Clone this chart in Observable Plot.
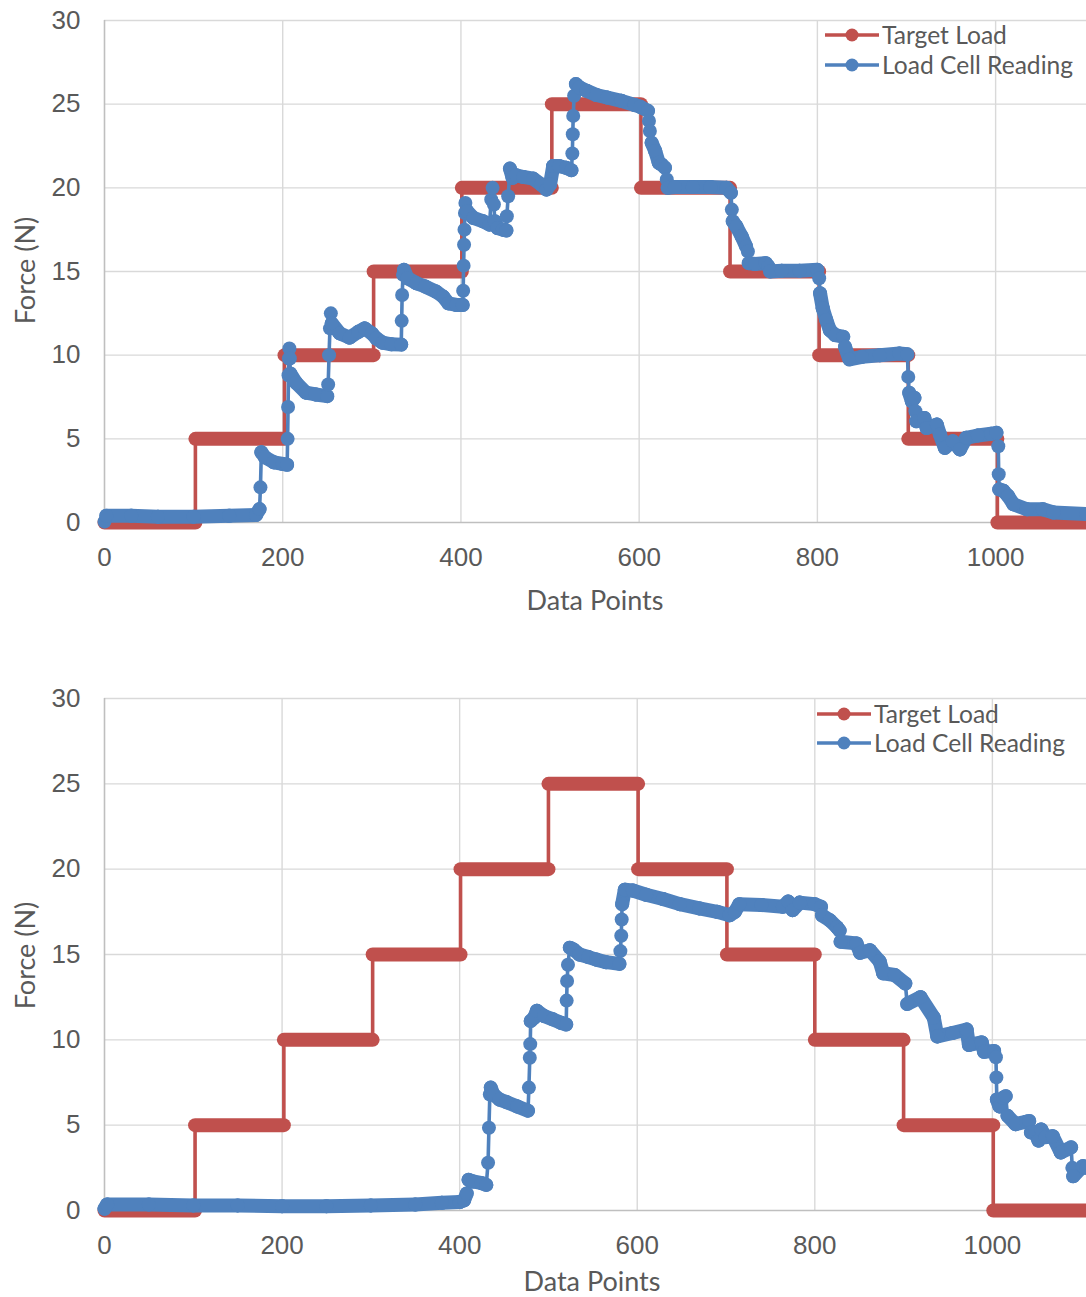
<!DOCTYPE html>
<html><head><meta charset="utf-8">
<script src="https://cdn.jsdelivr.net/npm/d3@7"></script>
<script src="https://cdn.jsdelivr.net/npm/@observablehq/plot@0.6"></script>
<style>
body{margin:0;background:#fff;}
#wrap{position:relative;width:1086px;height:1297px;overflow:hidden;background:#fff;}
#wrap svg.plot, #wrap figure{display:block;margin:0;}
.lbl{position:absolute;font-family:Lato, "Open Sans", sans-serif;color:#595959;font-size:27px;white-space:nowrap;line-height:1;}
.leg{position:absolute;display:flex;align-items:center;font-family:Lato, "Open Sans", sans-serif;color:#595959;font-size:24.6px;white-space:nowrap;line-height:1;}
</style></head><body><div id="wrap"></div>
<script>
// ---------- data ----------
const xTicks = [0, 200, 400, 600, 800, 1000];
const yTicks = [0, 5, 10, 15, 20, 25, 30];
const seriesNames = ["Target Load", "Load Cell Reading"];

// Chart 1 (top)
const targetTop = [[0,0],[102,0],[102,5],[202,5],[202,10],[302,10],[302,15],[401,15],[401,20],[502,20],[502,25],[602,25],[602,20],[702,20],[702,15],[802,15],[802,10],[902,10],[902,5],[1002,5],[1002,0],[1102,0]];
const loadTop = [[0,0.05],[2,0.4],[30,0.4],[60,0.35],[100,0.35],[140,0.4],[170,0.45],[174,0.8],[175,2.1],[176,4.2],[180,3.9],[190,3.6],[200,3.5],[205,3.45],[205.5,5.0],[206,6.9],[206.5,8.8],[207,9.8],[207.5,10.4],[208,9.8],[208.5,8.9],[215,8.35],[226,7.76],[237,7.65],[250,7.55],[251,8.25],[252,10.0],[253,11.6],[254,12.5],[255,11.9],[264,11.3],[275,11.05],[285,11.4],[292,11.6],[300,11.3],[305,11.0],[312,10.75],[322,10.65],[333,10.63],[333.5,12.05],[334,13.6],[335,14.8],[336,15.1],[340,14.6],[350,14.3],[360,14.1],[372,13.8],[380,13.5],[386,13.1],[395,13.0],[402,13.0],[402.5,13.85],[403,15.35],[403.5,16.6],[404,17.5],[404.5,18.5],[405,19.1],[407,18.6],[414,18.2],[425,18.0],[432,17.8],[434,19.3],[435.5,20.0],[437,19.0],[438,18.0],[441,17.6],[447,17.5],[451,17.45],[451.5,18.3],[453,19.5],[455,21.15],[458,20.6],[462,20.75],[470,20.65],[481,20.55],[490,20.2],[496,19.9],[500,20.2],[503.5,21.3],[510,21.3],[518,21.2],[524,21.05],[525,22.05],[525.5,23.2],[526,24.3],[527,25.5],[529,26.2],[533,26.0],[541,25.8],[552,25.55],[564,25.4],[580,25.2],[595,24.95],[601,24.85],[610,24.6],[611,24.0],[612,23.4],[614,22.7],[618,22.2],[622,21.5],[625,21.4],[629,21.2],[631,20.5],[632,20.0],[640,20.05],[660,20.05],[680,20.05],[698,20.0],[703,19.7],[704,18.7],[705,18.0],[709,17.7],[715,17.1],[720,16.5],[722,16.2],[723,15.5],[730,15.45],[742,15.5],[745,15.3],[747,15.0],[760,15.05],[780,15.05],[800,15.1],[802,14.6],[803,13.7],[806,12.8],[810,12.1],[814,11.5],[820,11.2],[829,11.1],[831,10.5],[836,9.75],[850,9.9],[870,10.0],[892,10.1],[901,10.05],[902,8.7],[903,7.75],[906,7.25],[909,7.45],[910,6.65],[911,6.05],[920,6.25],[922.6,5.65],[934,5.85],[937.5,5.26],[943,4.46],[952,4.86],[960,4.37],[967,5.06],[980,5.2],[995,5.3],[1001,5.36],[1003,4.56],[1003.5,2.88],[1004,1.98],[1008.6,1.9],[1014,1.59],[1020,1.09],[1035,0.79],[1053,0.79],[1065,0.6],[1102,0.5]];

// Chart 2 (bottom)
const targetBottom = [[0,0],[102,0],[102,5],[202,5],[202,10],[302,10],[302,15],[401,15],[401,20],[500,20],[500,25],[601,25],[601,20],[701,20],[701,15],[800,15],[800,10],[900,10],[900,5],[1001,5],[1001,0],[1106,0]];
const loadBottom = [[0,0.1],[3,0.35],[50,0.35],[100,0.3],[150,0.3],[200,0.25],[250,0.25],[300,0.3],[350,0.35],[380,0.45],[400,0.5],[405,0.6],[408,1.0],[410,1.8],[415,1.7],[425,1.6],[430,1.5],[432,2.8],[433,4.85],[434,6.8],[435,7.2],[438,6.8],[445,6.5],[453,6.35],[465,6.1],[477,5.85],[478,7.2],[479,8.95],[479.5,9.75],[480,11.1],[484,11.3],[487,11.7],[495,11.4],[505,11.2],[514,11.0],[520,10.9],[520.5,12.3],[521,13.45],[522,14.4],[524,15.4],[528,15.3],[535,15.0],[545,14.85],[554,14.7],[565,14.55],[580,14.45],[581,15.2],[582,16.1],[582.5,17.05],[583,17.95],[586,18.8],[595,18.75],[610,18.5],[629,18.25],[648,17.95],[670,17.7],[690,17.5],[704,17.3],[710,17.5],[715,17.95],[740,17.9],[764,17.8],[770,18.1],[775,17.6],[783,18.04],[800,17.95],[807,17.8],[808,17.3],[817,17.0],[825,16.6],[828,16.4],[829,15.75],[847,15.65],[851,15.1],[862,15.25],[873,14.6],[877,13.9],[890,13.8],[902,13.3],[904,12.1],[919,12.5],[934,11.3],[938,10.2],[955,10.4],[971,10.6],[973.6,9.7],[988,9.85],[990.6,9.3],[1002,9.35],[1004,8.98],[1004.5,7.8],[1005,6.5],[1008,6.1],[1012,6.6],[1015,6.7],[1017,5.55],[1026,5.06],[1038,5.2],[1041.5,5.25],[1043.4,4.57],[1048,4.6],[1052,4.1],[1055,4.75],[1060,4.3],[1068,4.35],[1077,3.4],[1088.7,3.7],[1090,2.5],[1091,2.0],[1102,2.6],[1106,2.5]];

// ---------- drawing ----------
const RED = "#C0504D", BLUE = "#4F81BD", GRID = "#d9d9d9", AXIS = "#bfbfbf", TEXT = "#595959";

function runs(pts) { // consecutive samples that are spread along x (dense runs)
  const out = [];
  for (let i = 1; i < pts.length; i++) {
    if (Math.abs(pts[i][0] - pts[i-1][0]) > 2) out.push({x1: pts[i-1][0], y1: pts[i-1][1], x2: pts[i][0], y2: pts[i][1]});
  }
  return out;
}

function chart(target, load, xmax, height, mt, mb) {
  return Plot.plot({
    width: 1086, height, marginLeft: 104, marginRight: 0, marginTop: mt, marginBottom: mb,
    x: {domain: [0, xmax]}, y: {domain: [0, 30]},
    style: {fontFamily: "'Liberation Sans', Arial, sans-serif", background: "transparent"},
    marks: [
      Plot.gridX(xTicks.filter(d => d > 0), {stroke: GRID, strokeOpacity: 1, strokeWidth: 1.4}),
      Plot.gridY(yTicks.filter(d => d > 0), {stroke: GRID, strokeOpacity: 1, strokeWidth: 1.4}),
      Plot.ruleX([0], {stroke: AXIS, strokeWidth: 1.6}),
      Plot.ruleY([0], {stroke: AXIS, strokeWidth: 1.6}),
      Plot.axisX(xTicks, {tickSize: 0, tickPadding: 25, fontSize: 26, fill: TEXT, label: null, tickFormat: d => String(d)}),
      Plot.axisY(yTicks, {tickSize: 0, tickPadding: 24, fontSize: 26, fill: TEXT, label: null, tickFormat: d => String(d)}),
      Plot.line(target, {x: d => d[0], y: d => d[1], stroke: RED, strokeWidth: 3.6}),
      Plot.link(runs(target), {x1: "x1", y1: "y1", x2: "x2", y2: "y2", stroke: RED, strokeWidth: 14, strokeLinecap: "round"}),
      Plot.line(load, {x: d => d[0], y: d => d[1], stroke: BLUE, strokeWidth: 3.6}),
      Plot.link(runs(load), {x1: "x1", y1: "y1", x2: "x2", y2: "y2", stroke: BLUE, strokeWidth: 14, strokeLinecap: "round"}),
      Plot.dot(load, {x: d => d[0], y: d => d[1], r: 7, fill: BLUE})
    ]
  });
}

const wrap = document.getElementById("wrap");
wrap.appendChild(chart(targetTop, loadTop, 1102, 648, 20, 126));
wrap.appendChild(chart(targetBottom, loadBottom, 1106, 649, 50, 87));

function label(text, cx, cy, rotate) {
  const d = document.createElement("div");
  d.className = "lbl";
  d.textContent = text;
  wrap.appendChild(d);
  const w = d.offsetWidth, h = d.offsetHeight;
  d.style.left = (cx - w / 2) + "px";
  d.style.top = (cy - h / 2) + "px";
  if (rotate) d.style.transform = "rotate(-90deg)";
}
label("Data Points", 595, 599, false);
label("Force (N)", 25, 270, true);
label("Data Points", 592, 1280, false);
label("Force (N)", 25, 955, true);

function legend(left, top, gap) {
  [RED, BLUE].forEach((c, i) => {
    const row = document.createElement("div");
    row.className = "leg";
    row.style.left = left + "px";
    row.style.top = (top + i * gap - 15) + "px";
    row.style.height = "30px";
    row.innerHTML = `<svg width="54" height="30" style="display:block"><line x1="0" y1="15" x2="54" y2="15" stroke="${c}" stroke-width="3.5"/><circle cx="27" cy="15" r="6.5" fill="${c}"/></svg><span style="margin-left:3px">${seriesNames[i]}</span>`;
    wrap.appendChild(row);
  });
}
legend(825, 35, 30);
legend(817, 714, 29);
</script>
</body></html>
